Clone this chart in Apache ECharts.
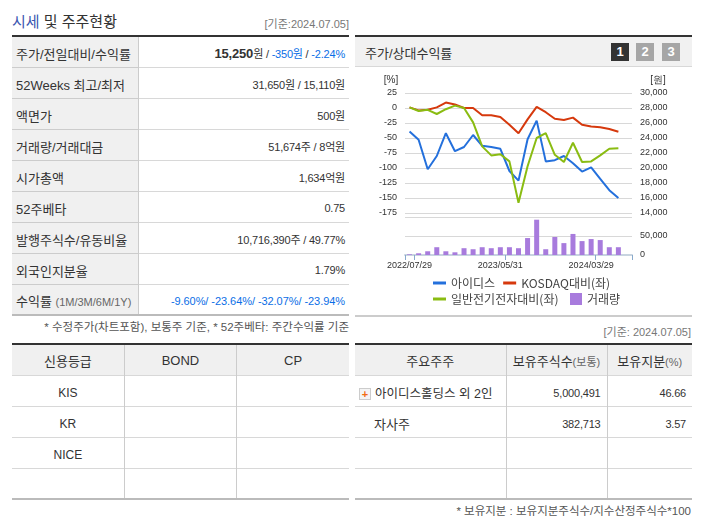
<!DOCTYPE html>
<html>
<head>
<meta charset="utf-8">
<script src="https://cdn.jsdelivr.net/npm/echarts@6/dist/echarts.min.js"></script>
<style>
html, body { margin: 0; padding: 0; background: #fff; }
body { width: 702px; height: 525px; position: relative; overflow: hidden; font-family: "Liberation Sans", "Noto Sans CJK KR", sans-serif; font-size: 12px; color: #333; }
.abs { position: absolute; white-space: nowrap; }
table { position: absolute; border-collapse: collapse; table-layout: fixed; border-top: 2px solid #333; border-bottom: 2px solid #bbb; }
td, th { padding: 0; font-weight: normal; border-top: 1px solid #d8d8d8; box-sizing: border-box; }
th { background: #f0f0f0; color: #333; font-size: 13px; padding-top: 2px; }
td { padding-top: 4px; }
.vl td, .vl th { border-left: 1px solid #ccc; }
.vl td:first-child, .vl th:first-child { border-left: 0; }
#info th { text-align: left; padding-left: 4px; padding-top: 3px; border-right: 1px solid #ccc; border-top-color: #ccc; }
#info td { text-align: right; padding-right: 4px; padding-top: 3px; font-size: 11px; letter-spacing: -0.2px; }
#info b { font-size: 13px; }
.num { font-size: 11px; letter-spacing: -0.2px; text-align: right; padding-right: 6px; }
.sub { font-size: 11px; color: #666; }
.blue { color: #0a6ee6; }
.wide { letter-spacing: -0.06px; }
#plus { position: absolute; left: 359px; top: 388px; width: 10px; height: 10px; border: 1px solid #ccc; background: #f4f4f4; color: #f26a12; font: bold 11px/10px "Liberation Sans"; text-align: center; }
#head { position: absolute; left: 355px; top: 35px; width: 337px; height: 32px; background: #f1f1f1; border-top: 2px solid #333; border-bottom: 1px solid #d8d8d8; box-sizing: border-box; }
.btn { position: absolute; top: 43px; width: 18px; height: 18px; background: #a6a6a6; color: #fff; font: bold 13px/18px "Liberation Sans"; text-align: center; }
#chart { position: absolute; left: 355px; top: 67px; width: 337px; height: 248px; }
#panelEnd { position: absolute; left: 355px; top: 315px; width: 337px; height: 2px; background: #ccc; }
</style>
</head>
<body>
<div class="abs" style="left:12px;top:10px;font-size:15px;"><span style="color:#3a56b0;">시세</span> 및 주주현황</div>
<div class="abs" style="right:353px;top:15px;color:#777;font-size:11px;">[기준:2024.07.05]</div>
<table id="info" style="left:12px;top:35px;width:337px;"></table>
<div class="abs" style="right:353px;top:318px;color:#555;font-size:11.5px;">* 수정주가(차트포함), 보통주 기준, * 52주베타: 주간수익률 기준</div>
<table id="credit" class="vl" style="left:12px;top:343px;width:337px;"></table>

<div id="head"></div>
<div class="abs" style="left:365px;top:43px;font-size:13px;">주가/상대수익률</div>
<div class="btn" style="left:611px;background:#333;">1</div>
<div class="btn" style="left:636px;">2</div>
<div class="btn" style="left:662px;">3</div>
<div id="chart"></div>
<div id="panelEnd"></div>
<div class="abs" style="right:11px;top:323px;color:#777;font-size:11px;">[기준: 2024.07.05]</div>
<table id="holders" class="vl" style="left:355px;top:343px;width:337px;"></table>
<div id="plus">+</div>
<div class="abs" style="right:11px;top:502px;color:#555;font-size:11.5px;">* 보유지분 : 보유지분주식수/지수산정주식수*100</div>

<script>
var dates = ['2022/07/29', '2022/08/31', '2022/09/30', '2022/10/31', '2022/11/30', '2022/12/29',
    '2023/01/31', '2023/02/28', '2023/03/31', '2023/04/28', '2023/05/31', '2023/06/30',
    '2023/07/31', '2023/08/31', '2023/09/27', '2023/10/31', '2023/11/30', '2023/12/28',
    '2024/01/31', '2024/02/29', '2024/03/29', '2024/04/30', '2024/05/31', '2024/06/28', ''];
var price = [24880, 23760, 19840, 21600, 24640, 22240, 22800, 24400, 22960, 22800, 22560, 19600,
    18320, 23840, 26320, 20880, 21040, 21600, 20640, 19520, 20080, 18560, 17040, 16000];
var kosdaq = [1, -4, -3, 1, 9, 6, 0, 0, -12, -12, -15, -28, -42, -19, 2, -7, -18, -20, -16, -28, -31, -32, -35, -39.5];
var sector = [1, -5, -3, -10, -2, 4, 0, -24, -64, -79, -77, -89, -158, -97, -50, -42, -78, -90, -58, -90, -89, -79, -68, -67];
var volume = [1800, 4500, 9800, 20500, 9800, 7100, 17900, 15200, 20500, 17900, 20500, 20500,
    17900, 44600, 92900, 15200, 47300, 31300, 55400, 36600, 42000, 39300, 20500, 20500];

var infoRows = [
    ['주가/전일대비/수익률', '<b>15,250</b>원 / <span class="blue">-350원</span> / <span class="blue">-2.24%</span>'],
    ['52Weeks 최고/최저', '31,650원 / 15,110원'],
    ['액면가', '500원'],
    ['거래량/거래대금', '51,674주 / 8억원'],
    ['시가총액', '1,634억원'],
    ['52주베타', '0.75'],
    ['발행주식수/유동비율', '10,716,390주 / 49.77%'],
    ['외국인지분율', '1.79%'],
    ['수익률 <span class="sub">(1M/3M/6M/1Y)</span>', '<span class="blue wide">-9.60%/ -23.64%/ -32.07%/ -23.94%</span>']
];
var creditHead = ['신용등급', 'BOND', 'CP'];
var creditRows = ['KIS', 'KR', 'NICE', ''];
var holderHead = ['주요주주', '보유주식수<span class="sub">(보통)</span>', '보유지분<span class="sub">(%)</span>'];
var holderRows = [
    ['아이디스홀딩스 외 2인', '5,000,491', '46.66'],
    ['자사주', '382,713', '3.57'],
    ['', '', ''],
    ['', '', '']
];

document.getElementById('info').innerHTML = '<colgroup><col style="width:126px"><col></colgroup>' +
    infoRows.map(function (r) {
        return '<tr style="height:31px"><th>' + r[0] + '</th><td>' + r[1] + '</td></tr>';
    }).join('');

document.getElementById('credit').innerHTML = '<tr style="height:31px">' +
    creditHead.map(function (h) { return '<th>' + h + '</th>'; }).join('') + '</tr>' +
    creditRows.map(function (r) {
        return '<tr style="height:31px"><td style="text-align:center">' + r + '</td><td></td><td></td></tr>';
    }).join('');

document.getElementById('holders').innerHTML =
    '<colgroup><col style="width:151px"><col style="width:101px"><col></colgroup>' +
    '<tr style="height:31px">' + holderHead.map(function (h) {
        return '<th>' + h + '</th>';
    }).join('') + '</tr>' +
    holderRows.map(function (r, i) {
        return '<tr style="height:31px"><td style="font-size:' + (i == 0 ? 12.5 : 13) + 'px;padding-left:' + (i == 0 ? 20 : 19) + 'px">' + r[0] + '</td>' +
            '<td class="num">' + r[1] + '</td><td class="num">' + r[2] + '</td></tr>';
    }).join('');

var axisFont = 'Liberation Sans';
var myChart = echarts.init(document.getElementById('chart'));
var option = {
    animation: false,
    textStyle: { fontFamily: '"Noto Sans CJK KR", sans-serif' },
    grid: [
        { left: 50, top: 26, width: 227, height: 120 },
        { left: 50, top: 150, width: 227, height: 38 }
    ],
    legend: [
        {
            left: 73, top: 205, itemWidth: 13, itemHeight: 3, itemGap: 8, icon: 'rect', selectedMode: false,
            textStyle: { fontSize: 12, color: '#444' }, data: ['아이디스', 'KOSDAQ대비(좌)']
        },
        {
            left: 73, top: 221, itemWidth: 13, itemHeight: 3, icon: 'rect', selectedMode: false,
            textStyle: { fontSize: 12, color: '#444' }, data: ['일반전기전자대비(좌)']
        },
        {
            left: 210, top: 221, itemWidth: 12, itemHeight: 12, icon: 'rect', selectedMode: false,
            textStyle: { fontSize: 12, color: '#444' }, data: ['거래량']
        }
    ],
    xAxis: [
        { type: 'category', gridIndex: 0, data: dates, axisLine: { show: false }, axisTick: { show: false }, axisLabel: { show: false } },
        {
            type: 'category', gridIndex: 1, data: dates,
            axisLine: { lineStyle: { color: '#c8d4e0', width: 2 } },
            axisTick: {
                show: true, length: 5, lineStyle: { color: '#88aacc', width: 1 },
                interval: function (index) { return index % 10 == 1 || index == 0; }
            },
            axisLabel: {
                fontFamily: axisFont, fontSize: 9, color: '#333', margin: 6,
                interval: function (index) { return index % 10 == 0 && index < 24; }
            }
        }
    ],
    yAxis: [
        {
            type: 'value', gridIndex: 0, min: -175, max: 25, interval: 25,
            name: '[%]', nameGap: 8, nameTextStyle: { fontFamily: axisFont, fontSize: 10, color: '#333', padding: [0, 28, 0, 0] },
            axisLine: { show: false }, axisTick: { show: false },
            axisLabel: { fontFamily: axisFont, fontSize: 9, color: '#333', margin: 8 },
            splitLine: { lineStyle: { color: '#d8d8d8', width: 1 } }
        },
        {
            type: 'value', gridIndex: 0, position: 'right', min: 14000, max: 30000, interval: 2000,
            name: '[원]', nameGap: 8, nameTextStyle: { fontFamily: axisFont, fontSize: 10, color: '#333', padding: [0, 0, 0, 52] },
            axisLine: { show: false }, axisTick: { show: false },
            axisLabel: {
                fontFamily: axisFont, fontSize: 9, color: '#333', margin: 8,
                formatter: function (v) { return echarts.format.addCommas(v); }
            },
            splitLine: { show: false }
        },
        {
            type: 'value', gridIndex: 1, position: 'right', min: 0, max: 100000, interval: 50000,
            axisLine: { show: false }, axisTick: { show: false },
            axisLabel: {
                fontFamily: axisFont, fontSize: 9, color: '#333', margin: 8,
                formatter: function (v) { return v == 100000 ? '' : echarts.format.addCommas(v); }
            },
            splitLine: { lineStyle: { color: '#d8d8d8', width: 1 } }
        }
    ],
    series: [
        { name: '아이디스', type: 'line', xAxisIndex: 0, yAxisIndex: 1, data: price, showSymbol: false, lineStyle: { width: 2 }, itemStyle: { color: '#2470dc' } },
        { name: 'KOSDAQ대비(좌)', type: 'line', xAxisIndex: 0, yAxisIndex: 0, data: kosdaq, showSymbol: false, lineStyle: { width: 2 }, itemStyle: { color: '#d6390d' } },
        { name: '일반전기전자대비(좌)', type: 'line', xAxisIndex: 0, yAxisIndex: 0, data: sector, showSymbol: false, lineStyle: { width: 2 }, itemStyle: { color: '#8abc12' } },
        { name: '거래량', type: 'bar', xAxisIndex: 1, yAxisIndex: 2, data: volume, barWidth: 5, itemStyle: { color: '#a87bdd' } }
    ]
};
myChart.setOption(option);
</script>
</body>
</html>
